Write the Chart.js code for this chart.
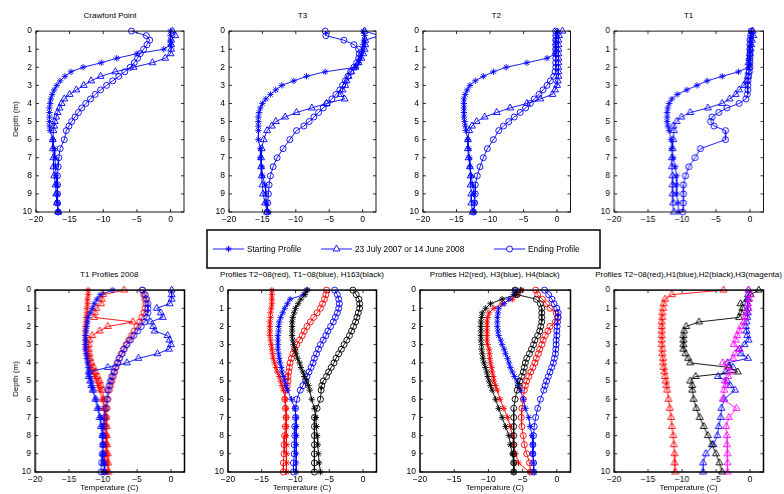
<!DOCTYPE html>
<html>
<head>
<meta charset="utf-8">
<script src="https://cdn.jsdelivr.net/npm/chart.js@4.4.1/dist/chart.umd.min.js"></script>
<style>
  body { margin: 0; width: 784px; height: 494px; overflow: hidden; background: #fff; position: relative;
         font-family: "Liberation Sans", Arial, Helvetica, sans-serif; color: #000; }
  .panel { position: absolute; }
  .txt { position: absolute; font-size: 8px; line-height: 8px; white-space: nowrap; transform: translate(-50%, -50%); }
  .ytitle { transform: translate(-50%, -50%) rotate(-90deg); }
  .legtxt { position: absolute; font-size: 8.3px; line-height: 9px; white-space: nowrap; transform: translateY(-50%); }
</style>
</head>
<body>
<script>
// depth of every sample (m): 0.25 m to 5.5 m, then every 0.5 m
const depths = [0, 0.25, 0.5, 0.75, 1, 1.25, 1.5, 1.75, 2, 2.25, 2.5, 2.75, 3, 3.25, 3.5, 3.75, 4, 4.25, 4.5, 4.75, 5, 5.25, 5.5,
                6, 6.5, 7, 7.5, 8, 8.5, 9, 9.5, 10];
const xTicks = [-20, -15, -10, -5, 0];
const yTicks = [0, 1, 2, 3, 4, 5, 6, 7, 8, 9, 10];
const legendLabels = ['Starting Profile', '23 July 2007 or 14 June 2008', 'Ending Profile'];

// Crawford Point
const cpStart = [0,0,0,0,-1,-5,-8,-10.3,-13,-14.8,-15.7,-16.4,-16.9,-17.3,-17.6,-17.8,-17.9,-18,-18,-18,-18,-18,-17.9, -17.5,-17.3,-17.2,-17.1,-17,-16.9,-16.8,-16.8,-16.7];
const cpJuly  = [0.3,0.7,0.1,0.1,0.1,0,-0.8,-2.7,-5.5,-8.2,-10.4,-11.8,-12.9,-14,-15,-15.8,-16.2,-16.5,-16.8,-17,-17.2,-17.3,-17.4, -17.5,-17.5,-17.4,-17.4,-17.3,-17.1,-17,-16.9,-16.7];
const cpEnd   = [-5.8,-3.6,-3.1,-3.5,-4,-4.5,-4.9,-5.4,-6,-6.8,-7.7,-8.6,-9.5,-10.4,-11.2,-11.9,-12.6,-13.2,-13.7,-14.2,-14.7,-15.1,-15.5, -15.8,-16.4,-16.6,-16.7,-16.8,-16.8,-16.8,-16.8,-16.7];
// T3
const t3Start = [0.1,0.3,0.2,0.1,0,-0.2,-0.4,-0.6,-1,-5.6,-8.4,-10.3,-12.1,-13,-13.8,-14.5,-15,-15.3,-15.5,-15.6,-15.6,-15.6,-15.6, -15.6,-15.3,-15.3,-15.1,-15,-14.6,-14.5,-14.4,-14.1];
const t3July  = [0.3,2.5,0.4,0.4,0.3,0.1,-0.2,-0.6,-1.1,-1.7,-2.1,-2.4,-2.6,-3,-3.3,-2.7,-5.4,-7.6,-9.9,-11.6,-13,-13.6,-14.3, -14.8,-15.1,-15.2,-15.2,-15.1,-15,-14.9,-14.6,-14.3];
const t3End   = [-5.6,-5.5,-2.8,-1.3,-0.6,-0.5,-0.6,-0.9,-1.3,-1.8,-2.2,-2.6,-3,-3.4,-4,-4.6,-5.3,-5.9,-6.6,-7.3,-8,-8.8,-9.9, -10.9,-11.9,-12.8,-13.4,-13.8,-14,-14.1,-14.2,-14.3];
// T2
const t2Start = [0,-0.1,-0.2,-0.2,-0.2,-0.3,-1.5,-4.5,-7.6,-9.5,-11,-12.2,-13,-13.4,-13.7,-13.9,-13.9,-13.9,-13.9,-13.9,-13.8,-13.7,-13.6, -13.3,-13.2,-13.1,-13,-12.8,-12.6,-12.4,-12.3,-12.4];
const t2July  = [0.8,0.3,0.2,0.2,0.2,0.2,0.2,0.2,0.2,0.2,0.2,0.1,0,-0.3,-0.7,-2.5,-4.5,-7,-9,-10.8,-12,-12.7,-13.1, -13.3,-13.3,-13.2,-13,-12.9,-12.9,-12.8,-12.8,-12.6];
const t2End   = [-0.2,-0.2,-0.2,-0.2,-0.2,-0.2,-0.2,-0.2,-0.2,-0.3,-0.5,-1,-1.5,-2.1,-2.7,-3.4,-4,-4.7,-5.5,-6.4,-7.2,-8,-8.7, -9.5,-10.4,-11,-11.5,-11.9,-12.2,-12.2,-12.3,-12.5];
// T1
const t1Start = [0.2,0.2,0.1,0.1,0,0,-0.1,-0.1,-0.2,-1.7,-4.1,-6.3,-7.8,-9.3,-10.7,-11.5,-11.9,-12.1,-12.2,-12.2,-12.2,-12.1,-11.9, -11.6,-11.5,-11.3,-11,-10.8,-10.8,-10.8,-10.6,-10.5];
const t1July  = [0.4,0.5,0.3,0.2,0.1,0,-0.1,-0.2,-0.1,-0.2,-0.3,-0.5,-0.9,-1.6,-2.1,-3,-4.1,-6.2,-8.8,-10.1,-10.8,-11.3,-11.2, -11.3,-11.4,-11.5,-11.5,-11.4,-11.4,-11.4,-11.3,-11.2];
const t1End   = [0.2,0.1,0,0,0,0,0,0,0,-0.1,-0.2,-0.3,-0.3,-0.3,-0.4,-0.6,-1.6,-3.4,-4.6,-5.6,-5.8,-5.3,-3.6, -3.6,-7.3,-8.1,-9,-9.5,-9.8,-9.8,-9.8,-9.9];

// T1 profiles 2008 (red and blue strings)
const t108RedStart  = [-12.2,-12.2,-12.3,-12.3,-12.4,-12.4,-12.5,-12.5,-12.6,-12.6,-12.6,-12.6,-12.6,-12.5,-12.4,-12.3,-12.1,-11.8,-11.5,-11.2,-10.9,-10.7,-10.5, -10.1,-9.9,-9.8,-9.7,-9.6,-9.55,-9.5,-9.4,-9.3];
const t108RedMid    = [-6.9,-10,-10.2,-10.3,-11,-11.2,-11.3,-5.6,-9.3,-10.5,-11.6,-12,-12.1,-12.1,-12,-11.9,-11.7,-11.4,-11.1,-10.8,-10.5,-10.3,-10.1, -9.9,-9.7,-9.6,-9.5,-9.45,-9.4,-9.3,-9.25,-9.2];
const t108RedEnd    = [-4.2,-4,-3.8,-3.7,-3.8,-4,-4.3,-4.6,-5,-5.4,-5.8,-6.2,-6.6,-7,-7.3,-7.6,-7.8,-8.1,-8.3,-8.5,-8.7,-8.9,-9.1, -9.3,-9.4,-9.5,-9.55,-9.6,-9.6,-9.7,-9.75,-9.8];
const t108BlueStart = [-8.6,-10.4,-10.9,-11.3,-11.6,-11.9,-12.2,-12.3,-12.4,-12.5,-12.6,-12.6,-12.6,-12.6,-12.5,-12.4,-12.3,-12.2,-12.1,-12,-11.8,-11.7,-11.5, -11.1,-10.7,-10.4,-10.2,-10.1,-10,-10,-9.9,-9.8];
const t108BlueMid   = [0.1,0.1,0.1,-0.2,-2.1,-1.5,-1.2,-3,-2.6,-2.4,-0.5,-0.2,0,-0.3,-2,-4.8,-6.5,-9.3,-12.1,-12.1,-11.9,-11.7,-11.5, -11.1,-10.8,-10.5,-10.3,-10.1,-10,-10,-9.9,-9.8];
const t108BlueEnd   = [-4.2,-3.8,-3.6,-3.4,-3.4,-3.4,-3.6,-3.9,-4.4,-4.9,-5.5,-6,-6.5,-6.9,-7.2,-7.6,-7.9,-8.2,-8.4,-8.7,-8.9,-9.1,-9.3, -9.4,-9.6,-9.8,-9.9,-10,-10.05,-10.1,-10.2,-10.3];

// T2-08 (red), T1-08 (blue), H163 (black)
const t208Start = [-13.5,-13.5,-13.5,-13.5,-13.6,-13.7,-13.7,-13.8,-13.8,-13.8,-13.8,-13.7,-13.6,-13.5,-13.4,-13.3,-13.1,-12.9,-12.7,-12.4,-12.2,-12,-11.8, -11.5,-11.4,-11.4,-11.4,-11.4,-11.3,-11.3,-11.3,-11.3];
const t208End   = [-5.4,-5.5,-5.7,-6,-6.3,-6.8,-7.3,-7.8,-8.3,-8.7,-9,-9.4,-9.8,-10.1,-10.4,-10.6,-10.8,-10.9,-11,-11.1,-11.1,-11.2,-11.4, -11.6,-11.5,-11.4,-11.5,-11.6,-11.7,-11.7,-11.8,-11.8];
const t108Start = [-8.4,-8.8,-10.8,-11.2,-11.6,-11.9,-12.2,-12.4,-12.5,-12.5,-12.6,-12.6,-12.6,-12.6,-12.5,-12.4,-12.3,-12.1,-12,-11.8,-11.6,-11.4,-11.2, -10.6,-10.1,-9.9,-9.9,-9.9,-9.9,-9.9,-9.9,-9.9];
const t108End   = [-4.2,-3.8,-3.6,-3.5,-3.6,-3.8,-4.1,-4.4,-4.8,-5.2,-5.5,-5.9,-6.3,-6.6,-6.9,-7.2,-7.4,-7.7,-8,-8.3,-8.5,-8.9,-9.3, -9.8,-10,-10,-10.1,-10.1,-10.2,-10.2,-10.3,-10.3];
const h163Start = [-8.2,-8.6,-9.2,-9.6,-10,-10.2,-10.4,-10.5,-10.5,-10.5,-10.5,-10.4,-10.3,-10.1,-9.9,-9.7,-9.4,-9.2,-8.9,-8.7,-8.4,-8.1,-7.9, -7.6,-7.2,-7,-6.9,-6.8,-6.7,-6.6,-6.5,-6.3];
const h163End   = [-1.5,-1,-0.6,-0.5,-0.5,-0.7,-0.9,-1.1,-1.4,-1.7,-2,-2.4,-2.8,-3.2,-3.6,-4,-4.3,-4.7,-5.1,-5.4,-5.9,-6.1,-6.2, -6.3,-6.8,-7.2,-7.2,-7.2,-7.2,-7.2,-7.2,-7.2];

// H2 (red), H3 (blue), H4 (black)
const h2Start = [-5.1,-5.8,-6.5,-8,-9.2,-9.9,-10.1,-10.2,-10.2,-10.2,-10.2,-10.2,-10.1,-9.9,-9.85,-9.8,-9.7,-9.55,-9.45,-9.3,-9.2,-8.95,-8.7, -8.3,-7.75,-7.2,-6.8,-6.5,-6.3,-6.05,-5.6,-4];
const h2End   = [-3.1,-2.8,-2.1,-1.5,-1,-0.1,0.1,-0.2,-1,-1.3,-1.7,-2,-2.2,-2.5,-2.7,-3,-3.2,-3.5,-3.8,-4.1,-4.4,-4.6,-4.75, -4.9,-5.1,-5.2,-5.1,-4.9,-4.75,-4.4,-4,-3.8];
const h3Start = [-6.1,-6.3,-7,-7.7,-8.5,-8.6,-8.7,-8.7,-8.7,-8.6,-8.5,-8.2,-8,-7.7,-7.5,-7.2,-7,-6.8,-6.5,-6.2,-5.8,-5.6,-5.3, -4.9,-4.6,-4.1,-3.9,-3.6,-3.5,-3.5,-3.4,-3.3];
const h3End   = [-1.8,-1.2,-0.7,-0.4,0,0.2,0.2,0.1,0.05,0,0,-0.1,-0.1,-0.15,-0.2,-0.35,-0.5,-0.75,-1,-1.25,-1.5,-1.7,-1.9, -2.4,-2.8,-3.1,-3.3,-3.4,-3.5,-3.5,-3.4,-3.4];
const h4Start = [-5.3,-6,-8,-9.7,-10.4,-10.9,-11,-11.1,-11.1,-11.1,-11.1,-11.1,-11,-11,-10.9,-10.8,-10.65,-10.45,-10.25,-10.1,-9.9,-9.7,-9.45, -8.95,-8.5,-8,-7.5,-7,-6.8,-6.5,-6.3,-6.3];
const h4End   = [-6.1,-5.8,-3,-2.4,-2.2,-2.2,-2.2,-2.2,-2.35,-2.5,-2.8,-3.2,-3.4,-3.7,-4,-4.4,-4.6,-4.75,-4.9,-5.15,-5.4,-5.6,-5.8, -6.1,-6.3,-6.3,-6.3,-6.3,-6.3,-6.3,-6.3,-6.3];

// T2-08 (red), H1 (blue), H2 (black), H3 (magenta)
const t208Tri = [-3.9,-11.5,-12.5,-12.7,-12.8,-12.9,-12.9,-13,-13,-13,-13,-13,-13,-12.9,-12.9,-12.8,-12.8,-12.7,-12.6,-12.5,-12.4,-12.3,-12.2, -12,-11.8,-11.6,-11.5,-11.3,-11.2,-11.1,-11.1,-11];
const h1Tri   = [-0.2,-0.3,-0.3,-0.4,-0.3,-0.3,-0.4,-0.5,-0.6,-0.5,-0.4,-0.2,-0.8,-1.6,-1.3,-0.3,-3.3,-2.5,-3.6,-4.7,-3.4,-2.9,-2.2, -3.8,-4.2,-4.3,-4.6,-4.8,-5.4,-6.5,-6.9,-6.9];
const h2Tri   = [1.3,0.1,-0.4,-1.4,-1.1,-1.3,-1.6,-7.5,-9.4,-9.7,-9.8,-9.8,-9.8,-9.8,-9.5,-9.1,-8.8,-3.1,-1.8,-8,-8.8,-8.5,-8.5, -8.3,-7.9,-7.4,-6.8,-6.2,-5.6,-5,-4.5,-4.1];
const h3Tri   = [-0.2,0,-0.1,-0.3,-0.2,-0.5,-0.7,-0.9,-1.3,-1.6,-1.9,-2.1,-2.4,-1.5,-2.2,-2.5,-4,-3.3,-2.8,-3.2,-3.7,-3.6,-3.8, -4,-2,-3.1,-3.5,-3.4,-3.4,-3.3,-3.3,-3.3];

const BLUE = '#0000ff', RED = '#ff0000', BLACK = '#000000', MAGENTA = '#ff00ff';
const FONT = '"Liberation Sans", Arial, Helvetica, sans-serif';
const PADL = 34, PADR = 6, PADT = 4, PADB = 16;
const RADIUS = { star: 3.2, triangle: 4, circle: 3 };

// box = [left, top, width, height] of the axes frame, in page pixels
const panels = [
  { title: 'Crawford Point', box: [36, 25.7, 148, 186], lw: 0.9, yTitle: true,
    series: [[cpStart, BLUE, 'star'], [cpJuly, BLUE, 'triangle'], [cpEnd, BLUE, 'circle']] },
  { title: 'T3', box: [229, 25.7, 147, 186], lw: 0.9,
    series: [[t3Start, BLUE, 'star'], [t3July, BLUE, 'triangle'], [t3End, BLUE, 'circle']] },
  { title: 'T2', box: [422.5, 25.7, 147.5, 186], lw: 0.9,
    series: [[t2Start, BLUE, 'star'], [t2July, BLUE, 'triangle'], [t2End, BLUE, 'circle']] },
  { title: 'T1', box: [614.3, 25.7, 148.5, 186], lw: 0.9,
    series: [[t1Start, BLUE, 'star'], [t1July, BLUE, 'triangle'], [t1End, BLUE, 'circle']] },
  { title: 'T1 Profiles 2008', box: [35, 285, 148.5, 187], lw: 1.5, yTitle: true, xTitle: true,
    series: [[t108RedStart, RED, 'star'], [t108RedMid, RED, 'triangle'], [t108RedEnd, RED, 'circle'],
             [t108BlueStart, BLUE, 'star'], [t108BlueMid, BLUE, 'triangle'], [t108BlueEnd, BLUE, 'circle']] },
  { title: 'Profiles T2\u221208(red), T1\u221208(blue), H163(black)', box: [227.7, 285, 148.5, 187], lw: 1.5, xTitle: true,
    series: [[t208Start, RED, 'star'], [t208End, RED, 'circle'], [t108Start, BLUE, 'star'], [t108End, BLUE, 'circle'],
             [h163Start, BLACK, 'star'], [h163End, BLACK, 'circle']] },
  { title: 'Profiles H2(red), H3(blue), H4(black)', box: [419.5, 285, 150.5, 187], lw: 1.5, xTitle: true,
    series: [[h2Start, RED, 'star'], [h2End, RED, 'circle'], [h3Start, BLUE, 'star'], [h3End, BLUE, 'circle'],
             [h4Start, BLACK, 'star'], [h4End, BLACK, 'circle']] },
  { title: 'Profiles T2\u221208(red),H1(blue),H2(black),H3(magenta)', box: [614.3, 285, 148.5, 187], lw: 1.5, xTitle: true,
    series: [[t208Tri, RED, 'triangle'], [h1Tri, BLUE, 'triangle'], [h2Tri, BLACK, 'triangle'], [h3Tri, MAGENTA, 'triangle']] }
];

const fmt = v => (v < 0 ? '\u2212' + Math.abs(v) : String(v));

// full box with small inward ticks, matlab style
const framePlugin = {
  id: 'frame',
  afterDraw(chart, args, opts) {
    const { ctx, chartArea: a, scales: { x, y } } = chart;
    ctx.save();
    ctx.strokeStyle = '#000';
    ctx.lineWidth = 0.8;
    ctx.beginPath();
    xTicks.forEach(v => {
      const px = x.getPixelForValue(v);
      ctx.moveTo(px, a.bottom); ctx.lineTo(px, a.bottom - 3);
      ctx.moveTo(px, a.top); ctx.lineTo(px, a.top + 3);
    });
    yTicks.forEach(v => {
      const py = y.getPixelForValue(v);
      ctx.moveTo(a.left, py); ctx.lineTo(a.left + 3, py);
      ctx.moveTo(a.right, py); ctx.lineTo(a.right - 3, py);
    });
    ctx.stroke();
    ctx.lineWidth = opts.lw;
    ctx.strokeRect(a.left, a.top, a.right - a.left, a.bottom - a.top);
    ctx.restore();
  }
};

function addText(cls, text, x, y) {
  const d = document.createElement('div');
  d.className = cls;
  d.textContent = text;
  d.style.left = x + 'px';
  d.style.top = y + 'px';
  document.body.appendChild(d);
}

panels.forEach(p => {
  const [l, t, w, h] = p.box;
  const wrap = document.createElement('div');
  wrap.className = 'panel';
  wrap.style.left = (l - PADL) + 'px';
  wrap.style.top = (t - PADT) + 'px';
  wrap.style.width = (w + PADL + PADR) + 'px';
  wrap.style.height = (h + PADT + PADB) + 'px';
  const canvas = document.createElement('canvas');
  wrap.appendChild(canvas);
  document.body.appendChild(wrap);

  addText('txt', p.title, l + w / 2, t - 10);
  if (p.yTitle) addText('txt ytitle', 'Depth (m)', 15.5, t + h / 2);
  if (p.xTitle) addText('txt', 'Temperature (C)', l + w / 2, t + h + 15.5);

  const datasets = p.series.map((s, i) => ({
    data: s[0].map((v, k) => ({ x: v, y: depths[k] })),
    borderColor: s[1],
    borderWidth: 0.9,
    pointStyle: s[2],
    pointRadius: RADIUS[s[2]],
    pointBorderColor: s[1],
    pointBackgroundColor: 'rgba(0,0,0,0)',
    pointBorderWidth: 0.9,
    fill: false,
    tension: 0,
    order: -i,
    clip: { left: 5, top: 5, bottom: 5, right: 0 }
  }));

  new Chart(canvas, {
    type: 'line',
    data: { datasets },
    plugins: [framePlugin],
    options: {
      indexAxis: 'y',
      responsive: true,
      maintainAspectRatio: false,
      animation: false,
      events: [],
      layout: { padding: { left: 0, top: PADT, right: PADR, bottom: 0 } },
      plugins: { legend: { display: false }, tooltip: { enabled: false }, frame: { lw: p.lw } },
      scales: {
        x: {
          type: 'linear', min: -20, max: 2,
          grid: { display: false, drawTicks: false }, border: { display: false },
          afterBuildTicks: s => { s.ticks = xTicks.map(v => ({ value: v })); },
          afterFit: s => { s.height = PADB; },
          ticks: { color: '#000', padding: 3, maxRotation: 0, autoSkip: false,
                   font: { size: 8.5, family: FONT }, callback: v => fmt(v) }
        },
        y: {
          type: 'linear', reverse: true, min: 0, max: 10,
          grid: { display: false, drawTicks: false }, border: { display: false },
          afterBuildTicks: s => { s.ticks = yTicks.map(v => ({ value: v })); },
          afterFit: s => { s.width = PADL; },
          ticks: { color: '#000', padding: 4, autoSkip: false,
                   font: { size: 8.5, family: FONT }, callback: v => fmt(v) }
        }
      }
    }
  });
});

// legend box between the two rows
const legendMarkers = ['star', 'triangle', 'circle'];
const legendLineX = [213, 321, 494];
const LEG = { left: 207, top: 230, width: 393, height: 38, cy: 249 };
const NS = 'http://www.w3.org/2000/svg';
const svg = document.createElementNS(NS, 'svg');
svg.setAttribute('width', 784);
svg.setAttribute('height', 494);
svg.style.position = 'absolute';
svg.style.left = '0px';
svg.style.top = '0px';
let shapes = `<rect x="${LEG.left}" y="${LEG.top}" width="${LEG.width}" height="${LEG.height}" fill="none" stroke="#000" stroke-width="1.5"/>`;
legendMarkers.forEach((m, i) => {
  const x0 = legendLineX[i], cx = x0 + 15.5, cy = LEG.cy;
  shapes += `<line x1="${x0}" y1="${cy}" x2="${x0 + 31}" y2="${cy}" stroke="${BLUE}" stroke-width="0.9"/>`;
  if (m === 'star') {
    const r = 3.2, q = r * 0.707;
    shapes += `<path d="M${cx - r} ${cy}H${cx + r}M${cx} ${cy - r}V${cy + r}M${cx - q} ${cy - q}L${cx + q} ${cy + q}M${cx - q} ${cy + q}L${cx + q} ${cy - q}" stroke="${BLUE}" stroke-width="0.9"/>`;
  } else if (m === 'triangle') {
    const r = 4;
    shapes += `<polygon points="${cx},${cy - r} ${cx + r * 0.866},${cy + r * 0.5} ${cx - r * 0.866},${cy + r * 0.5}" fill="#fff" stroke="${BLUE}" stroke-width="0.9"/>`;
  } else {
    shapes += `<circle cx="${cx}" cy="${cy}" r="3" fill="#fff" stroke="${BLUE}" stroke-width="0.9"/>`;
  }
});
svg.innerHTML = shapes;
document.body.appendChild(svg);
legendLabels.forEach((lab, i) => {
  const d = document.createElement('div');
  d.className = 'legtxt';
  d.textContent = lab;
  d.style.left = (legendLineX[i] + 34) + 'px';
  d.style.top = LEG.cy + 'px';
  document.body.appendChild(d);
});
</script>
</body>
</html>
